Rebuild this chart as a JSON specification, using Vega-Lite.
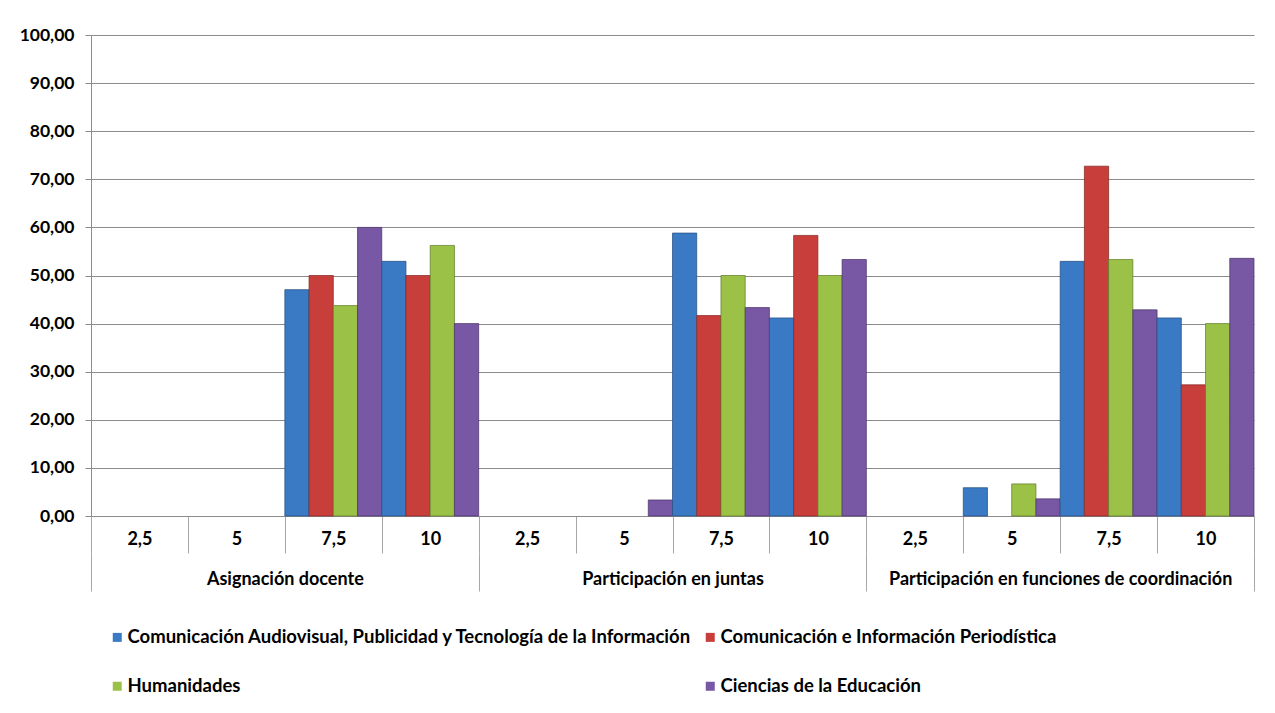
{
  "$schema": "https://vega.github.io/schema/vega-lite/v6.json",
  "width": 1163,
  "height": 481,
  "autosize": {"type": "none"},
  "padding": {"left": 91, "top": 35, "right": 21, "bottom": 197},
  "background": "white",
  "config": {
    "font": "Lato",
    "view": {"stroke": null},
    "axis": {"labelFont": "Lato", "labelFontWeight": "bold", "labelColor": "#000000", "titleFont": "Lato"}
  },
  "data": {
    "values": [
      {"grupo": "Asignación docente", "categoria": "Asignación docente|7,5", "serie": "Comunicación Audiovisual, Publicidad y Tecnología de la Información", "valor": 47.06},
      {"grupo": "Asignación docente", "categoria": "Asignación docente|7,5", "serie": "Comunicación e Información Periodística", "valor": 50.0},
      {"grupo": "Asignación docente", "categoria": "Asignación docente|7,5", "serie": "Humanidades", "valor": 43.75},
      {"grupo": "Asignación docente", "categoria": "Asignación docente|7,5", "serie": "Ciencias de la Educación", "valor": 60.0},
      {"grupo": "Asignación docente", "categoria": "Asignación docente|10", "serie": "Comunicación Audiovisual, Publicidad y Tecnología de la Información", "valor": 52.94},
      {"grupo": "Asignación docente", "categoria": "Asignación docente|10", "serie": "Comunicación e Información Periodística", "valor": 50.0},
      {"grupo": "Asignación docente", "categoria": "Asignación docente|10", "serie": "Humanidades", "valor": 56.25},
      {"grupo": "Asignación docente", "categoria": "Asignación docente|10", "serie": "Ciencias de la Educación", "valor": 40.0},
      {"grupo": "Participación en juntas", "categoria": "Participación en juntas|5", "serie": "Ciencias de la Educación", "valor": 3.33},
      {"grupo": "Participación en juntas", "categoria": "Participación en juntas|7,5", "serie": "Comunicación Audiovisual, Publicidad y Tecnología de la Información", "valor": 58.82},
      {"grupo": "Participación en juntas", "categoria": "Participación en juntas|7,5", "serie": "Comunicación e Información Periodística", "valor": 41.67},
      {"grupo": "Participación en juntas", "categoria": "Participación en juntas|7,5", "serie": "Humanidades", "valor": 50.0},
      {"grupo": "Participación en juntas", "categoria": "Participación en juntas|7,5", "serie": "Ciencias de la Educación", "valor": 43.33},
      {"grupo": "Participación en juntas", "categoria": "Participación en juntas|10", "serie": "Comunicación Audiovisual, Publicidad y Tecnología de la Información", "valor": 41.18},
      {"grupo": "Participación en juntas", "categoria": "Participación en juntas|10", "serie": "Comunicación e Información Periodística", "valor": 58.33},
      {"grupo": "Participación en juntas", "categoria": "Participación en juntas|10", "serie": "Humanidades", "valor": 50.0},
      {"grupo": "Participación en juntas", "categoria": "Participación en juntas|10", "serie": "Ciencias de la Educación", "valor": 53.33},
      {"grupo": "Participación en funciones de coordinación", "categoria": "Participación en funciones de coordinación|5", "serie": "Comunicación Audiovisual, Publicidad y Tecnología de la Información", "valor": 5.88},
      {"grupo": "Participación en funciones de coordinación", "categoria": "Participación en funciones de coordinación|5", "serie": "Humanidades", "valor": 6.67},
      {"grupo": "Participación en funciones de coordinación", "categoria": "Participación en funciones de coordinación|5", "serie": "Ciencias de la Educación", "valor": 3.57},
      {"grupo": "Participación en funciones de coordinación", "categoria": "Participación en funciones de coordinación|7,5", "serie": "Comunicación Audiovisual, Publicidad y Tecnología de la Información", "valor": 52.94},
      {"grupo": "Participación en funciones de coordinación", "categoria": "Participación en funciones de coordinación|7,5", "serie": "Comunicación e Información Periodística", "valor": 72.73},
      {"grupo": "Participación en funciones de coordinación", "categoria": "Participación en funciones de coordinación|7,5", "serie": "Humanidades", "valor": 53.33},
      {"grupo": "Participación en funciones de coordinación", "categoria": "Participación en funciones de coordinación|7,5", "serie": "Ciencias de la Educación", "valor": 42.86},
      {"grupo": "Participación en funciones de coordinación", "categoria": "Participación en funciones de coordinación|10", "serie": "Comunicación Audiovisual, Publicidad y Tecnología de la Información", "valor": 41.18},
      {"grupo": "Participación en funciones de coordinación", "categoria": "Participación en funciones de coordinación|10", "serie": "Comunicación e Información Periodística", "valor": 27.27},
      {"grupo": "Participación en funciones de coordinación", "categoria": "Participación en funciones de coordinación|10", "serie": "Humanidades", "valor": 40.0},
      {"grupo": "Participación en funciones de coordinación", "categoria": "Participación en funciones de coordinación|10", "serie": "Ciencias de la Educación", "valor": 53.57}
    ]
  },
  "layer": [
    {
      "mark": {"type": "bar", "strokeWidth": 0.8, "strokeOpacity": 0.9},
      "encoding": {
        "x": {
          "field": "categoria",
          "type": "nominal",
          "sort": null,
          "scale": {
            "domain": [
              "Asignación docente|2,5", "Asignación docente|5", "Asignación docente|7,5", "Asignación docente|10",
              "Participación en juntas|2,5", "Participación en juntas|5", "Participación en juntas|7,5", "Participación en juntas|10",
              "Participación en funciones de coordinación|2,5", "Participación en funciones de coordinación|5", "Participación en funciones de coordinación|7,5", "Participación en funciones de coordinación|10"
            ],
            "paddingInner": 0,
            "paddingOuter": 0
          },
          "axis": {
            "orient": "bottom",
            "title": null,
            "labelExpr": "split(datum.label, '|')[1]",
            "labelAngle": 0,
            "labelFontSize": 18,
            "labelPadding": -23,
            "tickBand": "extent",
            "tickSize": 37,
            "tickColor": "#a6a6a6",
            "domainColor": "#8c8c8c",
            "grid": false
          }
        },
        "xOffset": {
          "field": "serie",
          "type": "nominal",
          "scale": {
            "domain": ["Comunicación Audiovisual, Publicidad y Tecnología de la Información", "Comunicación e Información Periodística", "Humanidades", "Ciencias de la Educación"],
            "paddingInner": 0,
            "paddingOuter": 0
          }
        },
        "y": {
          "field": "valor",
          "type": "quantitative",
          "scale": {"domain": [0, 100], "nice": false},
          "axis": {
            "title": null,
            "values": [0, 10, 20, 30, 40, 50, 60, 70, 80, 90, 100],
            "labelExpr": "replace(format(datum.value, '.2f'), '.', ',')",
            "labelFontSize": 17.5,
            "labelPadding": 11,
            "tickSize": 6,
            "tickColor": "#8c8c8c",
            "domainColor": "#8c8c8c",
            "gridColor": "#8c8c8c",
            "gridWidth": 1
          }
        },
        "color": {
          "field": "serie",
          "type": "nominal",
          "scale": {
            "domain": ["Comunicación Audiovisual, Publicidad y Tecnología de la Información", "Comunicación e Información Periodística", "Humanidades", "Ciencias de la Educación"],
            "range": ["#3a79c4", "#c83e3b", "#9bc246", "#7857a4"]
          },
          "legend": {
            "title": null,
            "orient": "none",
            "legendX": 17,
            "legendY": 593,
            "direction": "horizontal",
            "columns": 2,
            "columnPadding": 8,
            "rowPadding": 30,
            "symbolType": "square",
            "symbolSize": 81,
            "symbolStrokeWidth": 0,
            "symbolOpacity": 1,
            "labelFont": "Lato",
            "labelFontWeight": "bold",
            "labelFontSize": 18.5,
            "labelColor": "#000000",
            "labelLimit": 800,
            "labelOffset": 1
          }
        },
        "stroke": {
          "field": "serie",
          "type": "nominal",
          "scale": {
            "domain": ["Comunicación Audiovisual, Publicidad y Tecnología de la Información", "Comunicación e Información Periodística", "Humanidades", "Ciencias de la Educación"],
            "range": ["#244f82", "#842624", "#617c2a", "#4a3367"]
          },
          "legend": null
        }
      }
    },
    {
      "mark": {"type": "bar", "opacity": 0},
      "encoding": {
        "x": {
          "field": "grupo",
          "type": "nominal",
          "sort": null,
          "scale": {
            "domain": ["Asignación docente", "Participación en juntas", "Participación en funciones de coordinación"],
            "paddingInner": 0,
            "paddingOuter": 0
          },
          "axis": {
            "orient": "bottom",
            "title": null,
            "offset": 37,
            "labelAngle": 0,
            "labelFontSize": 18,
            "labelPadding": -21,
            "labelLimit": 500,
            "tickBand": "extent",
            "tickSize": 38,
            "tickColor": "#a6a6a6",
            "domain": false,
            "grid": false
          }
        },
        "y": {"field": "valor", "type": "quantitative"}
      }
    }
  ],
  "resolve": {"scale": {"x": "independent"}}
}
